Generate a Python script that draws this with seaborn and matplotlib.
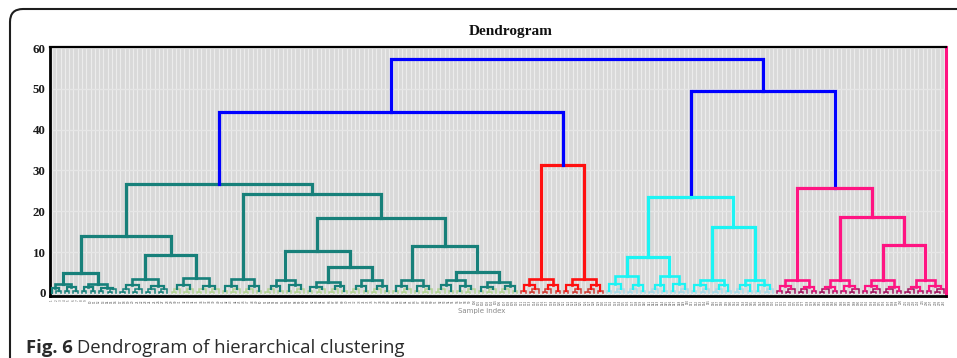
import matplotlib
matplotlib.use("Agg")
import matplotlib.pyplot as plt
import matplotlib.transforms as mtransforms
from matplotlib.patches import FancyBboxPatch
import seaborn as sns
import numpy as np
import pandas as pd

# ---------------- data ----------------
# leaf-level blocks: leaf groups inside each bottom cluster (two sub-clusters of leaf groups)
block_groups = [
    [[1, 2], [2, 2]],
    [[2, 2], [2, 3]],
    [[3, 3], [3, 3]],
    [[3, 3], [3, 3]],
    [[2, 3], [3, 2]],
    [[3, 2], [2, 3]],
    [[2, 3], [3, 2]],
    [[3, 2], [3, 2]],
    [[2, 3], [2, 3]],
    [[3, 2], [2, 3]],
    [[2, 3], [3, 2]],
    [[2, 3], [3, 2]],
    [[2, 3], [3, 2]],
    [[2, 3], [3, 2]],
    [[3, 2], [2, 3]],
    [[2, 3], [3, 2]],
    [[3, 2], [2, 3]],
    [[2, 3], [3, 2]],
    [[3, 2], [2, 3]],
    [[2, 3], [3, 2]],
    [[3, 2], [2, 3]],
]
block_top = [2.2, 2.2, 3.4, 3.7, 3.4, 3.2, 2.7, 3.2, 3.2, 3.2, 2.7,
             3.4, 3.4, 4.2, 4.2, 3.2, 3.2, 3.2, 3.2, 3.2, 3.2]
block_sub = [[1.3, 1.4], [1.5, 1.3], [1.9, 1.7], [2.0, 1.8], [1.8, 1.6], [1.7, 1.9],
             [1.5, 1.6], [1.8, 1.7], [1.7, 1.8], [1.9, 1.6], [1.5, 1.7], [2.0, 2.0],
             [2.0, 2.0], [2.1, 2.0], [2.0, 2.1], [1.9, 2.0], [2.0, 1.9], [1.6, 1.5],
             [1.5, 1.6], [1.6, 1.5], [1.5, 1.6]]
block_cluster = ["teal"] * 11 + ["red"] * 2 + ["cyan"] * 4 + ["pink"] * 4
block_light = [False, False, False] + [True] * 18
pair_h = 0.45
triple_h = 0.85
triple_pair_h = 0.35

# upper merges: (name, left, right, height)
merges = [
    ("A1", "B1", "B2", 5.0),
    ("A2", "B3", "B4", 9.3),
    ("A", "A1", "A2", 14.0),
    ("C1b", "B7", "B8", 6.4),
    ("C1", "B6", "C1b", 10.3),
    ("C2b", "B10", "B11", 5.1),
    ("C2", "B9", "C2b", 11.5),
    ("C", "C1", "C2", 18.4),
    ("Bt", "B5", "C", 24.2),
    ("T", "A", "Bt", 26.7),
    ("R", "B12", "B13", 31.3),
    ("L", "T", "R", 44.3),
    ("CyL", "B14", "B15", 8.8),
    ("CyR", "B16", "B17", 16.2),
    ("Cy", "CyL", "CyR", 23.5),
    ("PRR", "B20", "B21", 11.8),
    ("PR", "B19", "PRR", 18.6),
    ("P", "B18", "PR", 25.7),
    ("RB", "Cy", "P", 49.5),
    ("root", "L", "RB", 57.3),
]
blue_nodes = ["L", "RB", "root"]

cluster_colors = {"teal": "#17807a", "red": "#ff1010", "cyan": "#1cf4f4",
                  "pink": "#ff1482", "blue": "#0000ff"}
low_colors = {"teal": "#b3d394", "red": "#cf3b33", "cyan": "#a6dbe8", "pink": "#a3145f"}
ytick_vals = [0, 10, 20, 30, 40, 50, 60]

# ---------------- build link geometry ----------------
links = []
state = {"leaf": 0}


def add_link(xl, hl, xr, hr, h, color, level):
    links.append((xl, hl, xr, hr, h, color, level))


def new_leaf():
    x = state["leaf"]
    state["leaf"] += 1
    return float(x), 0.0


def make_group(n, col):
    if n == 1:
        return new_leaf()
    if n == 2:
        xa, ha = new_leaf()
        xb, hb = new_leaf()
        add_link(xa, ha, xb, hb, pair_h, col, "leaf")
        return (xa + xb) / 2, pair_h
    xa, ha = new_leaf()
    xb, hb = new_leaf()
    add_link(xa, ha, xb, hb, triple_pair_h, col, "leaf")
    xp, hp = (xa + xb) / 2, triple_pair_h
    xc, hc = new_leaf()
    add_link(xp, hp, xc, hc, triple_h, col, "leaf")
    return (xp + xc) / 2, triple_h


nodes = {}
for b, groups in enumerate(block_groups):
    cl = block_cluster[b]
    col = cluster_colors[cl]
    lowc = low_colors[cl] if block_light[b] else col
    subs = []
    for s, pair in enumerate(groups):
        x1, h1 = make_group(pair[0], lowc)
        x2, h2 = make_group(pair[1], lowc)
        hs = block_sub[b][s]
        add_link(x1, h1, x2, h2, hs, col, "sub")
        subs.append(((x1 + x2) / 2, hs))
    (xa, ha), (xb, hb) = subs
    add_link(xa, ha, xb, hb, block_top[b], col, "block")
    nodes["B%d" % (b + 1)] = ((xa + xb) / 2, block_top[b], cl)

for name, left, right, h in merges:
    xl, hl, cl = nodes[left]
    xr, hr, _ = nodes[right]
    color = cluster_colors["blue"] if name in blue_nodes else cluster_colors[cl]
    add_link(xl, hl, xr, hr, h, color, "major")
    nodes[name] = ((xl + xr) / 2, h, cl)

n_leaves = state["leaf"]
leaf_labels = [str(i + 1) for i in range(n_leaves)]

rows = []
for i, (xl, hl, xr, hr, h, color, level) in enumerate(links):
    for (x, y) in [(xl, hl), (xl, h), (xr, h), (xr, hr)]:
        rows.append({"link": i, "x": x, "y": y, "color": color, "level": level})
df = pd.DataFrame(rows)

# ---------------- figure ----------------
sns.set_theme(style="white")
plt.rcParams["font.family"] = ["DejaVu Sans"]

W, H = 957, 358
fig = plt.figure(figsize=(W / 100, H / 100), dpi=100)
fig.patch.set_facecolor("white")

frame = FancyBboxPatch((10, -30), 1100, 349 + 30, boxstyle="round,pad=0,rounding_size=13",
                       transform=mtransforms.IdentityTransform(), facecolor="none",
                       edgecolor="#1e1e1e", linewidth=1.5, zorder=0)
fig.patches.append(frame)

ax = fig.add_axes([50 / W, 1 - 296 / H, 896 / W, (296 - 47) / H])
ax.set_facecolor("#d9d9d9")

palette = {c: c for c in df["color"].unique()}
sizes = {"major": 2.3, "block": 1.9, "sub": 1.6, "leaf": 1.1}
for level in ["leaf", "sub", "block", "major"]:
    sub = df[df["level"] == level]
    sns.lineplot(data=sub, x="x", y="y", units="link", estimator=None, sort=False,
                 hue="color", palette=palette, legend=False, linewidth=sizes[level],
                 ax=ax, zorder=3, solid_joinstyle="miter", solid_capstyle="projecting")

ax.set_xlim(-0.5, n_leaves - 0.5)
ax.set_ylim(-0.75, 60.25)
ax.set_xticks(range(n_leaves))
ax.set_xticklabels(leaf_labels, rotation=90, fontsize=2.0, color="#555555")
ax.set_yticks(ytick_vals)
ax.set_yticklabels([str(v) for v in ytick_vals], fontsize=9.3, fontweight="bold",
                   family=["Liberation Serif"], color="#1a1a1a")
ax.tick_params(axis="x", length=0, pad=2.5)
ax.tick_params(axis="y", length=0, pad=3)
ax.set_xlabel("")
ax.set_ylabel("")
ax.set_axisbelow(True)
ax.grid(axis="x", color="#ececec", linewidth=0.8)
ax.grid(axis="y", color="#e6e6e6", linewidth=1.0)

for side in ["left", "bottom", "top"]:
    ax.spines[side].set_color("#000000")
ax.spines["left"].set_linewidth(2.0)
ax.spines["bottom"].set_linewidth(2.0)
ax.spines["top"].set_linewidth(1.6)
ax.spines["right"].set_color("#ff1482")
ax.spines["right"].set_linewidth(2.2)

fig.text(511 / W, 1 - 31 / H, "Dendrogram", ha="center", va="center", fontsize=11,
         fontweight="bold", family=["Liberation Serif"], color="#111111")
fig.text(482 / W, 1 - 311 / H, "Sample index", ha="center", va="center", fontsize=5,
         color="#8a8a8a")

# caption: bold "Fig. 6" followed by regular text
renderer = fig.canvas.get_renderer()
t1 = fig.text(26 / W, 1 - 353 / H, "Fig. 6", ha="left", va="baseline", fontsize=13.3,
              fontweight="bold", family=["Open Sans", "DejaVu Sans"], color="#2a2a2a")
bb = t1.get_window_extent(renderer=renderer)
fig.text((bb.x1 + 4) / W, 1 - 353 / H, "Dendrogram of hierarchical clustering", ha="left",
         va="baseline", fontsize=13.3, family=["Open Sans", "DejaVu Sans"], color="#2a2a2a")

fig.savefig("out.png", dpi=100)
